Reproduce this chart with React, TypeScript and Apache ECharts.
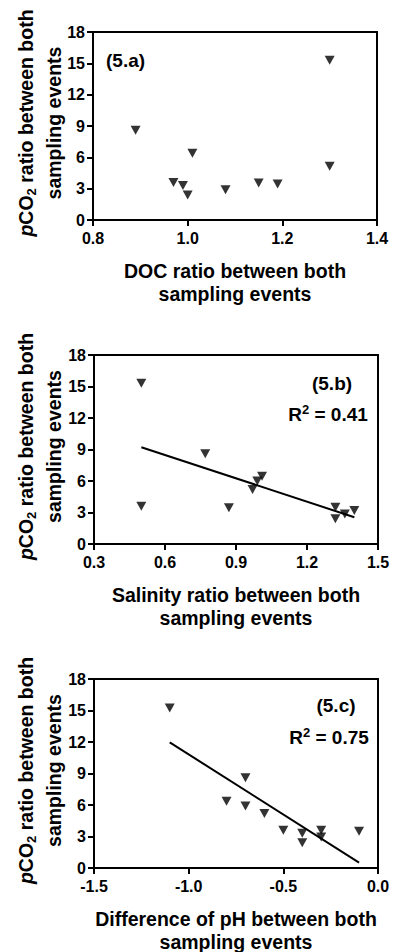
import React, { useEffect, useRef } from "react";
import * as echarts from "echarts";

// ---- data ----
const docX = [0.89, 0.97, 0.99, 1.0, 1.01, 1.08, 1.15, 1.19, 1.3, 1.3];
const docY = [8.6, 3.6, 3.3, 2.4, 6.4, 2.9, 3.55, 3.45, 5.15, 15.3];

const salX = [0.5, 0.5, 0.77, 0.87, 0.97, 0.99, 1.01, 1.32, 1.32, 1.36, 1.4];
const salY = [15.3, 3.6, 8.6, 3.45, 5.2, 6.0, 6.45, 3.5, 2.4, 2.85, 3.2];

const phX = [-1.1, -0.8, -0.7, -0.7, -0.6, -0.5, -0.4, -0.4, -0.3, -0.3, -0.1];
const phY = [15.25, 6.35, 8.6, 5.9, 5.2, 3.6, 3.3, 2.4, 3.6, 2.95, 3.5];

const xTitles = [
  ["DOC ratio between both", "sampling events"],
  ["Salinity ratio between both", "sampling events"],
  ["Difference of pH between both", "sampling events"],
];
const panelLabels = ["(5.a)", "(5.b)", "(5.c)"];
const r2Labels = ["", "0.41", "0.75"];
const xRanges = [
  [0.8, 1.4, 0.2],
  [0.3, 1.5, 0.3],
  [-1.5, 0, 0.5],
];
const yRange = [0, 18, 3];

const FONT = '"Liberation Sans", Arial, Helvetica, sans-serif';

function fit(xs: number[], ys: number[]) {
  const n = xs.length;
  const mx = xs.reduce((a, b) => a + b, 0) / n;
  const my = ys.reduce((a, b) => a + b, 0) / n;
  let sxy = 0;
  let sxx = 0;
  for (let i = 0; i < n; i++) {
    sxy += (xs[i] - mx) * (ys[i] - my);
    sxx += (xs[i] - mx) * (xs[i] - mx);
  }
  const b = sxy / sxx;
  const a = my - b * mx;
  const x0 = Math.min(...xs);
  const x1 = Math.max(...xs);
  return [
    [x0, a + b * x0],
    [x1, a + b * x1],
  ];
}

export default function App() {
  const ref = useRef<HTMLDivElement>(null);
  useEffect(() => {
    if (!ref.current) return;
    const chart = echarts.init(ref.current, null, { renderer: "svg" });

    const grids = [
      { left: 93, top: 32, width: 284, height: 188 },
      { left: 94, top: 355, width: 284, height: 189 },
      { left: 94, top: 679, width: 284, height: 189 },
    ];

    const axisCommon = {
      axisLine: { show: true, onZero: false, lineStyle: { color: "#000", width: 2 } },
      axisTick: { show: true, length: 6, lineStyle: { color: "#000", width: 2 } },
      splitLine: { show: false },
    };

    const xAxes = xRanges.map((r, i) => ({
      type: "value",
      gridIndex: i,
      min: r[0],
      max: r[1],
      interval: r[2],
      ...axisCommon,
      axisLabel: {
        color: "#000",
        fontFamily: FONT,
        fontWeight: "bold",
        fontSize: 16,
        margin: 10,
        showMinLabel: true,
        showMaxLabel: true,
        formatter: (v: number) => v.toFixed(1),
      },
    }));
    const yAxes = grids.map((_, i) => ({
      type: "value",
      gridIndex: i,
      min: yRange[0],
      max: yRange[1],
      interval: yRange[2],
      ...axisCommon,
      axisLabel: {
        color: "#000",
        fontFamily: FONT,
        fontWeight: "bold",
        fontSize: 16,
        margin: 8,
        showMinLabel: true,
        showMaxLabel: true,
      },
    }));

    const tri = "path://M0,0L10,0L5,9Z";
    const scatter = (xs: number[], ys: number[], i: number) => ({
      type: "scatter",
      xAxisIndex: i,
      yAxisIndex: i,
      symbol: tri,
      symbolSize: [10, 9],
      itemStyle: { color: "#000" },
      data: xs.map((x, k) => [x, ys[k]]),
      z: 3,
    });
    const fitLine = (xs: number[], ys: number[], i: number) => ({
      type: "line",
      xAxisIndex: i,
      yAxisIndex: i,
      symbol: "none",
      lineStyle: { color: "#000", width: 2 },
      data: fit(xs, ys),
      z: 2,
    });

    const graphics: any[] = [];
    const titleFont = `bold 19.5px ${FONT}`;
    grids.forEach((g, i) => {
      const cy = g.top + g.height / 2 - 3;
      const cx = g.left + g.width / 2;
      // y title (rotated)
      graphics.push({
        type: "text",
        x: 26,
        y: cy,
        rotation: Math.PI / 2,
        style: {
          text: "{i|p}CO{s|2} ratio between both",
          font: titleFont,
          fontFamily: FONT,
          fontWeight: "bold",
          fontSize: 19.5,
          fill: "#000",
          align: "center",
          verticalAlign: "middle",
          textAlign: "center",
          textVerticalAlign: "middle",
          rich: {
            i: { fontStyle: "italic", fontWeight: "bold", fontSize: 19.5, fontFamily: FONT, fill: "#000" },
            s: { fontWeight: "bold", fontSize: 13, fontFamily: FONT, padding: [10, 0, 0, 0], fill: "#000" },
          },
        },
      });
      graphics.push({
        type: "text",
        x: 54,
        y: cy,
        rotation: Math.PI / 2,
        style: {
          text: "sampling events",
          font: titleFont,
          fill: "#000",
          align: "center",
          verticalAlign: "middle",
          textAlign: "center",
          textVerticalAlign: "middle",
        },
      });
      // x titles
      const bottom = g.top + g.height;
      xTitles[i].forEach((t, k) => {
        graphics.push({
          type: "text",
          x: cx,
          y: bottom + 51 + k * 23,
          style: {
            text: t,
            font: titleFont,
            fill: "#000",
            align: "center",
            verticalAlign: "middle",
            textAlign: "center",
            textVerticalAlign: "middle",
          },
        });
      });
    });
    // panel labels
    graphics.push({
      type: "text",
      x: 106,
      y: 60,
      style: {
        text: panelLabels[0],
        font: `bold 19px ${FONT}`,
        fill: "#000",
        align: "left",
        verticalAlign: "middle",
        textAlign: "left",
        textVerticalAlign: "middle",
      },
    });
    const lblPos = [
      null,
      { lx: 332, ly: 383, rx: 328, ry: 414 },
      { lx: 336, ly: 705, rx: 329, ry: 737 },
    ];
    [1, 2].forEach((i) => {
      const p = lblPos[i]!;
      graphics.push({
        type: "text",
        x: p.lx,
        y: p.ly,
        style: {
          text: panelLabels[i],
          font: `bold 19px ${FONT}`,
          fill: "#000",
          align: "center",
          verticalAlign: "middle",
          textAlign: "center",
          textVerticalAlign: "middle",
        },
      });
      graphics.push({
        type: "text",
        x: p.rx,
        y: p.ry,
        style: {
          text: "R{sup|2} = " + r2Labels[i],
          font: `bold 19px ${FONT}`,
          fontFamily: FONT,
          fontWeight: "bold",
          fontSize: 19,
          fill: "#000",
          align: "center",
          verticalAlign: "middle",
          textAlign: "center",
          textVerticalAlign: "middle",
          rich: {
            sup: { fontWeight: "bold", fontSize: 13, fontFamily: FONT, padding: [0, 0, 10, 0], fill: "#000" },
          },
        },
      });
    });

    chart.setOption({
      animation: false,
      grid: grids.map((g) => ({ ...g, show: true, borderColor: "#000", borderWidth: 2, backgroundColor: "transparent" })),
      xAxis: xAxes,
      yAxis: yAxes,
      series: [
        scatter(docX, docY, 0),
        fitLine(salX, salY, 1),
        scatter(salX, salY, 1),
        fitLine(phX, phY, 2),
        scatter(phX, phY, 2),
      ],
      graphic: graphics,
    });
    return () => chart.dispose();
  }, []);
  return (
    <div
      ref={ref}
      style={{ position: "absolute", left: 0, top: 0, width: 394, height: 952, background: "#fff" }}
    />
  );
}
